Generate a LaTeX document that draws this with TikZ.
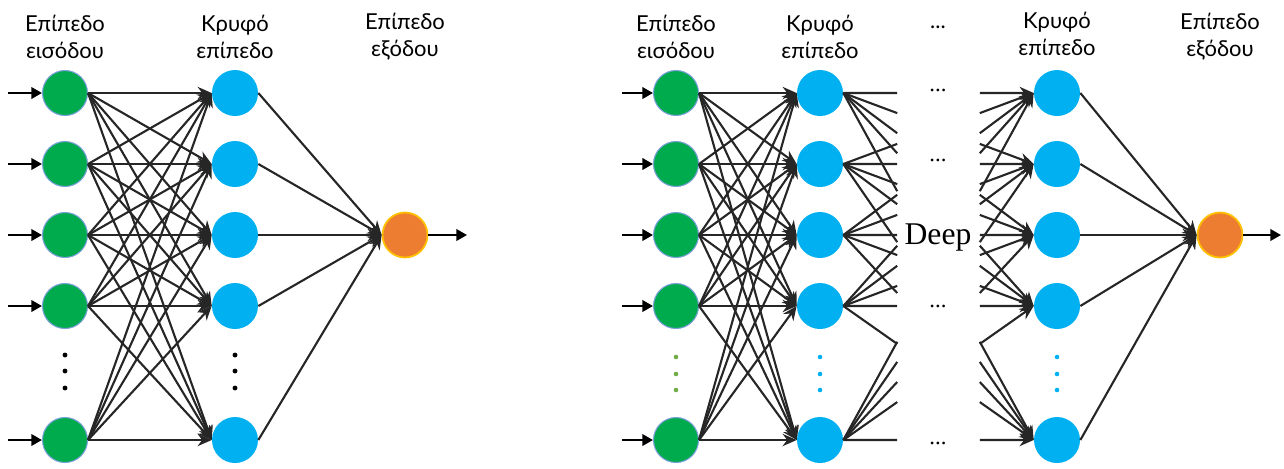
\documentclass[tikz,border=0pt]{standalone}
\usepackage{fontspec}
\setmainfont{Lato}
\newfontfamily\serifdeep{Liberation Serif}
\usetikzlibrary{arrows.meta,calc}
\definecolor{ingreen}{HTML}{00AB4E}
\definecolor{inedge}{HTML}{7B9FD9}
\definecolor{hidblue}{HTML}{00B0F0}
\definecolor{outorange}{HTML}{ED7D31}
\definecolor{outyellow}{HTML}{FFC000}
\definecolor{dotgreen}{HTML}{70AD47}
\definecolor{wgray}{HTML}{262626}

\begin{document}
\begin{tikzpicture}
            [x=0.02cm,y=-0.02cm,
            inp/.style={circle,fill=ingreen,draw=inedge,line width=0.6pt,minimum size=0.9cm,inner sep=0pt},
            hid/.style={circle,fill=hidblue,minimum size=0.92cm,inner sep=0pt},
            outp/.style={circle,fill=outorange,draw=outyellow,line width=1pt,minimum size=0.9cm,inner sep=0pt},
            lbl/.style={align=center,font=\fontsize{12.5}{15.3}\selectfont},
            w/.style={draw=wgray,line width=1.2pt,-{Stealth[length=8pt,width=7pt]}},
            wl/.style={draw=wgray,line width=1.2pt},
            feed/.style={draw=black,line width=1.2pt,-{Triangle[length=6pt,width=6.5pt]}},
            dd/.style={font=\serifdeep\fontsize{13}{13}\selectfont}]
            \useasboundingbox (0,0) rectangle (1284,468);
            % left network
            \node[lbl] (l1) at (65,37) {Επίπεδο\\εισόδου};
            \node[lbl] (l2) at (235,37) {Κρυφό\\επίπεδο};
            \node[lbl] (l3) at (405,37) {Επίπεδο\\εξόδου};
            \foreach \r/\y in {1/93,2/164,3/235,4/306,5/440} {
                \node[inp] (i\r) at (65,\y) {};
                \node[hid] (h\r) at (235,\y) {};
                \coordinate (s\r) at (8,\y);
                \draw[feed] (s\r) -- (i\r);
            }
            \node[outp] (o) at (405,235) {};
            \coordinate (e) at (467,235);
            \foreach \a in {1,...,5} {
                \foreach \b in {1,...,5}
                    \draw[w] (i\a.east) -- (h\b.west);
                \draw[w] (h\a.east) -- (o.west);
            }
            \draw[feed] (o) -- (e);
            \foreach \y in {355,371,388} {
                \fill (65,\y) circle (1.4pt);
                \fill (235,\y) circle (1.4pt);
            }
            % right network
            \node[lbl] (m1) at (676,37) {Επίπεδο\\εισόδου};
            \node[lbl] (m2) at (820,37) {Κρυφό\\επίπεδο};
            \node[lbl] (m3) at (938,27) {...};
            \node[lbl] (m4) at (1057,34) {Κρυφό\\επίπεδο};
            \node[lbl] (m5) at (1220,37) {Επίπεδο\\εξόδου};
            \foreach \r/\y in {1/93,2/164,3/235,4/306,5/440} {
                \node[inp] (ri\r) at (676,\y) {};
                \node[hid] (rh\r) at (820,\y) {};
                \node[hid] (rk\r) at (1057,\y) {};
                \coordinate (rs\r) at (622,\y);
                \draw[feed] (rs\r) -- (ri\r);
            }
            \node[outp] (ro) at (1220,235) {};
            \coordinate (re) at (1281,235);
            \foreach \a in {1,...,5} {
                \foreach \b in {1,...,5} {
                    \draw[w] (ri\a.east) -- (rh\b.west);
                    \coordinate (p\a\b) at ($(rh\a.east)!0.283!(rk\b.west)$);
                    \coordinate (q\a\b) at ($(rh\a.east)!0.717!(rk\b.west)$);
                    \draw[wl] (rh\a.east) -- (p\a\b);
                    \draw[w] (q\a\b) -- (rk\b.west);
                }
                \draw[w] (rk\a.east) -- (ro.west);
            }
            \draw[feed] (ro) -- (re);
            \foreach \y in {357,374,390} {
                \fill[dotgreen] (676,\y) circle (1.3pt);
                \fill[hidblue] (820,\y) circle (1.3pt);
                \fill[hidblue] (1057,\y) circle (1.3pt);
            }
            \node[dd] (d1) at (938,90) {...};
            \node[dd] (d2) at (938,160) {...};
            \node[dd] (d4) at (938,306) {...};
            \node[dd] (d5) at (938,443) {...};
            \node[font=\serifdeep\fontsize{18}{18}\selectfont] (deep) at (938,238) {Deep};
        \end{tikzpicture}
\end{document}
